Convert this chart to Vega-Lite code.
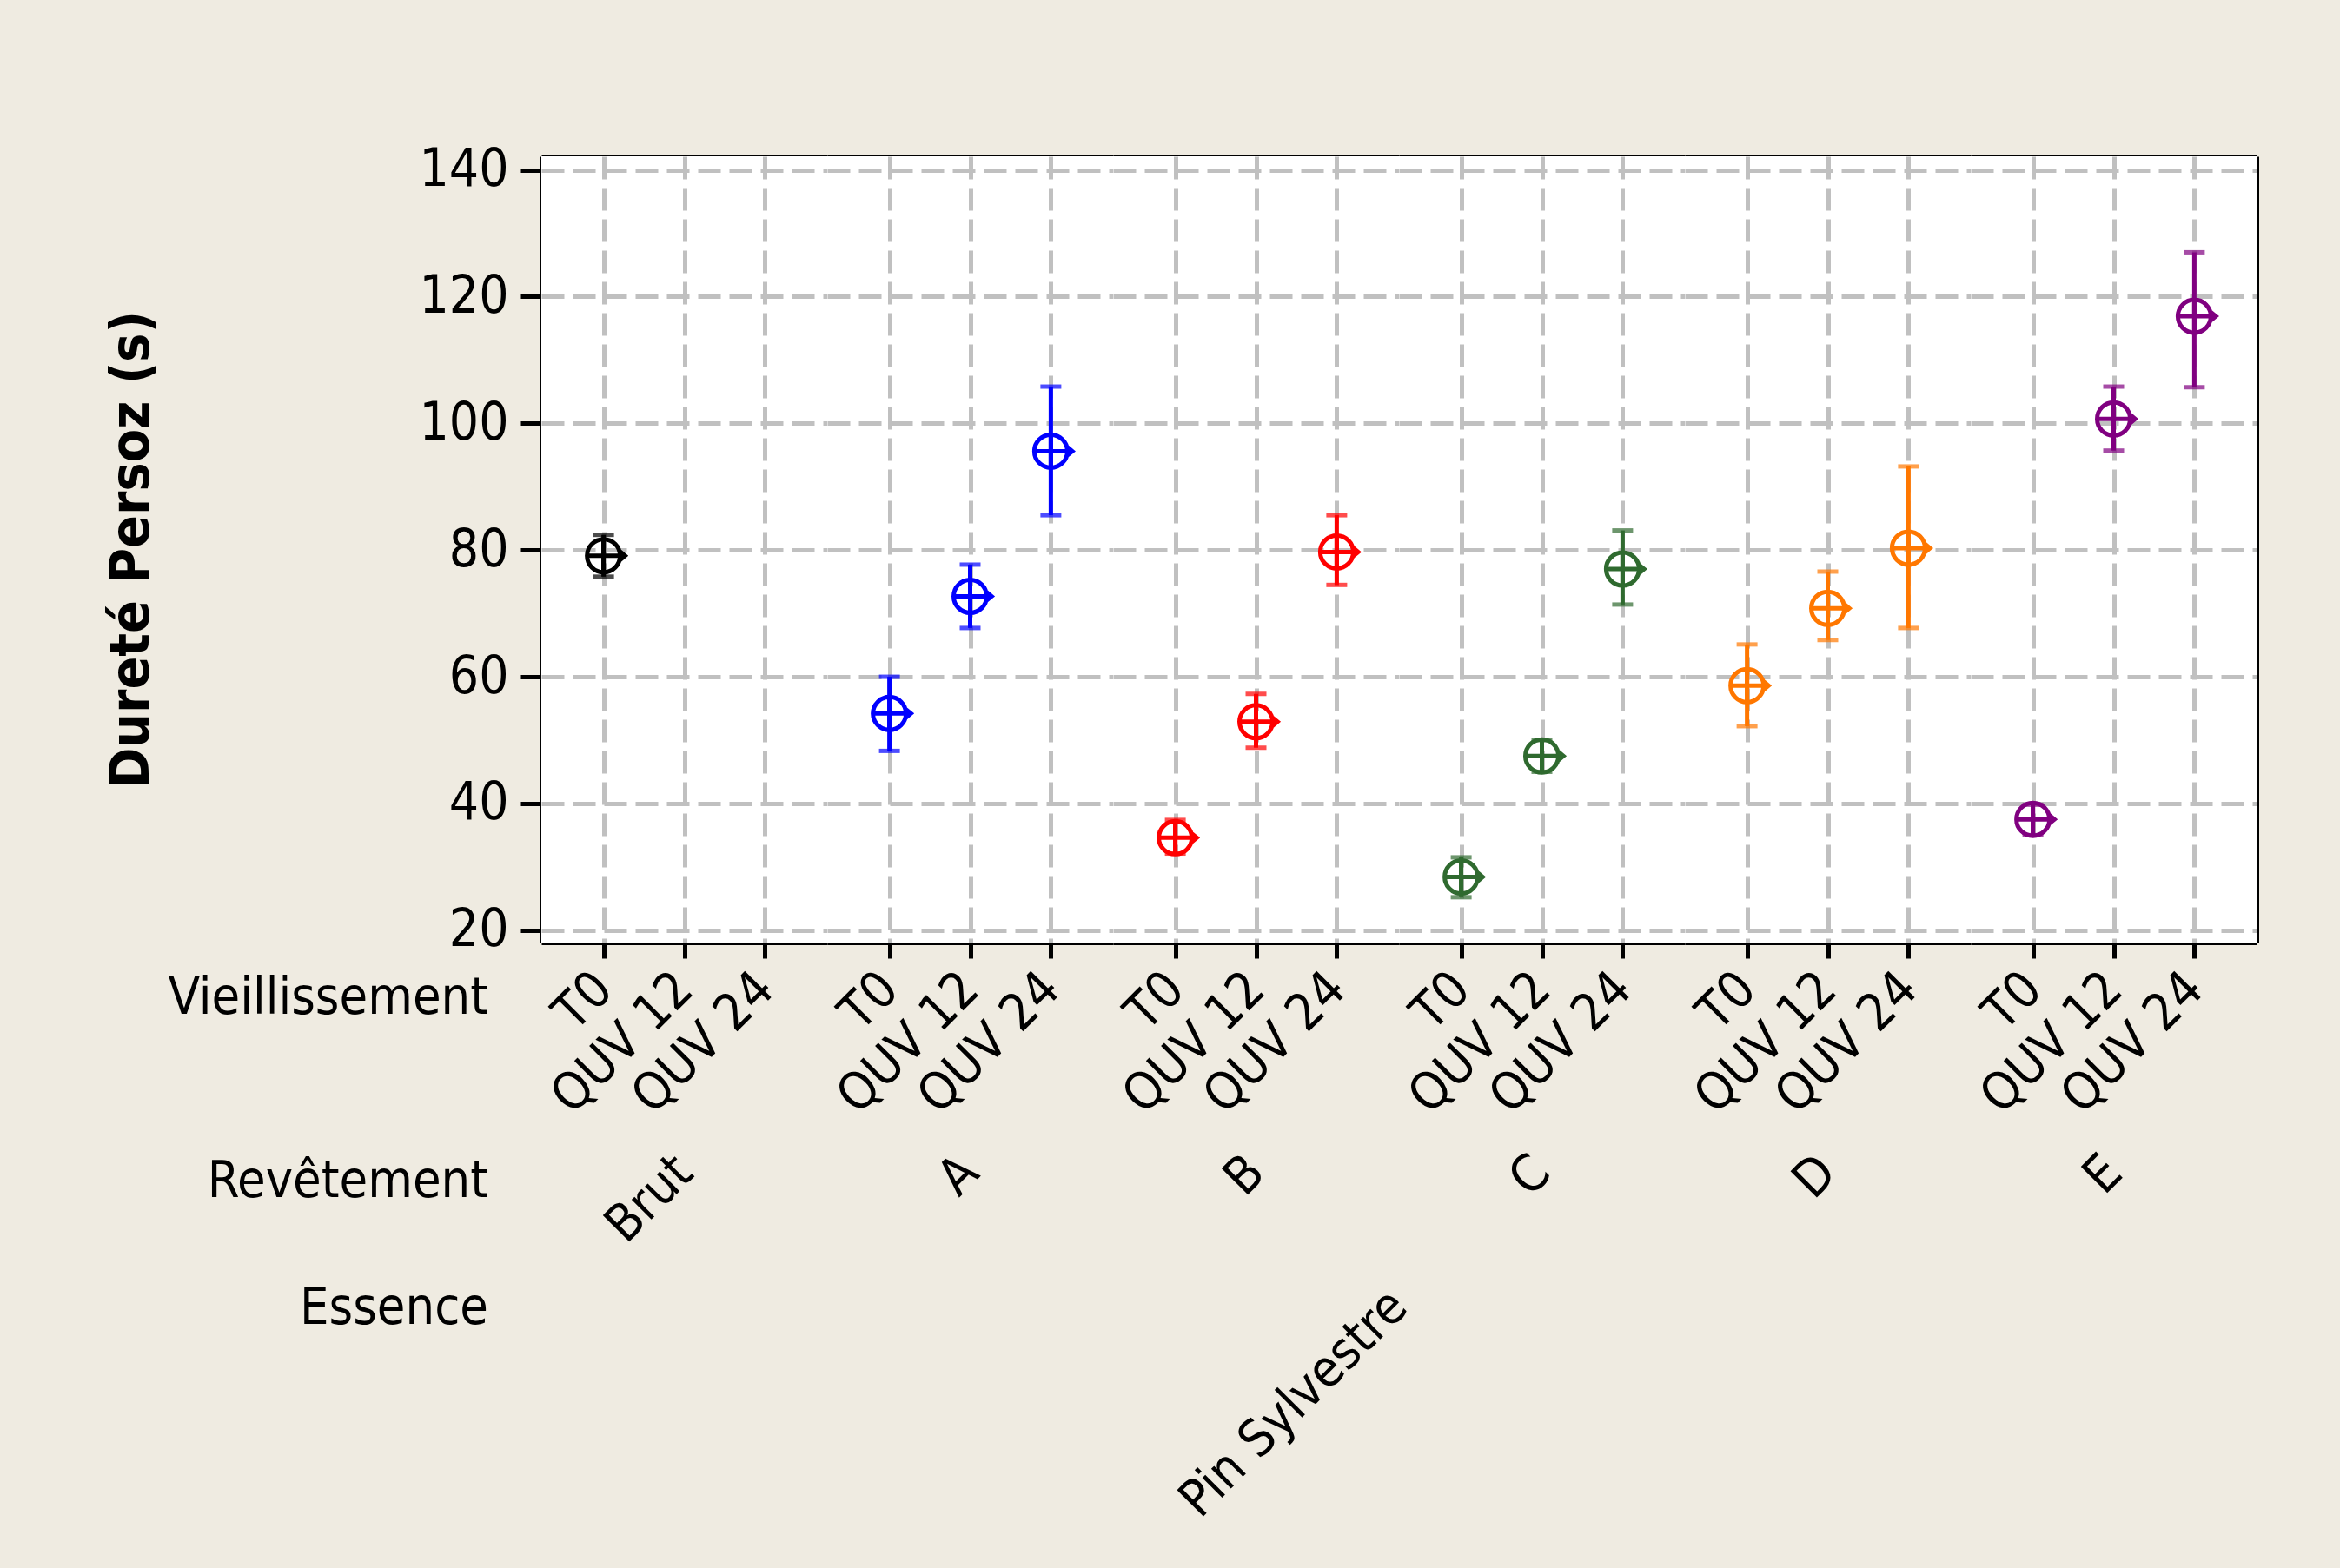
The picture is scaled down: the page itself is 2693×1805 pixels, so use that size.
{
  "$schema": "https://vega.github.io/schema/vega-lite/v6.json",
  "background": "#EFEBE1",
  "padding": {"left": 119, "top": 165, "right": 110, "bottom": 90},
  "data": {
    "values": [
      {"revetement": "Brut", "vieillissement": "T0", "moyenne": 79.1, "bas": 75.8, "haut": 82.4},
      {"revetement": "A", "vieillissement": "T0", "moyenne": 54.2, "bas": 48.3, "haut": 60.0},
      {"revetement": "A", "vieillissement": "QUV 12", "moyenne": 72.7, "bas": 67.7, "haut": 77.7},
      {"revetement": "A", "vieillissement": "QUV 24", "moyenne": 95.6, "bas": 85.5, "haut": 105.8},
      {"revetement": "B", "vieillissement": "T0", "moyenne": 34.6, "bas": 32.1, "haut": 37.4},
      {"revetement": "B", "vieillissement": "QUV 12", "moyenne": 52.9, "bas": 48.8, "haut": 57.3},
      {"revetement": "B", "vieillissement": "QUV 24", "moyenne": 79.7, "bas": 74.5, "haut": 85.5},
      {"revetement": "C", "vieillissement": "T0", "moyenne": 28.4, "bas": 25.2, "haut": 31.5},
      {"revetement": "C", "vieillissement": "QUV 12", "moyenne": 47.5, "bas": 45.0, "haut": 50.0},
      {"revetement": "C", "vieillissement": "QUV 24", "moyenne": 77.0, "bas": 71.4, "haut": 83.1},
      {"revetement": "D", "vieillissement": "T0", "moyenne": 58.6, "bas": 52.2, "haut": 65.1},
      {"revetement": "D", "vieillissement": "QUV 12", "moyenne": 70.8, "bas": 65.8, "haut": 76.6},
      {"revetement": "D", "vieillissement": "QUV 24", "moyenne": 80.3, "bas": 67.7, "haut": 93.2},
      {"revetement": "E", "vieillissement": "T0", "moyenne": 37.5, "bas": 35.0, "haut": 39.8},
      {"revetement": "E", "vieillissement": "QUV 12", "moyenne": 100.7, "bas": 95.7, "haut": 105.8},
      {"revetement": "E", "vieillissement": "QUV 24", "moyenne": 116.9, "bas": 105.7, "haut": 127.0}
    ]
  },
  "title": {
    "text": "Vieillissement",
    "subtitle": ["Revêtement", "Essence"],
    "orient": "bottom",
    "anchor": "start",
    "frame": "group",
    "align": "right",
    "baseline": "top",
    "dx": -61,
    "dy": -638,
    "offset": 0,
    "lineHeight": 71,
    "fontSize": 59,
    "fontWeight": "normal",
    "color": "#000000",
    "subtitleFontSize": 59,
    "subtitleColor": "#000000",
    "subtitleLineHeight": 146,
    "subtitlePadding": 152
  },
  "facet": {
    "column": {
      "field": "revetement",
      "type": "nominal",
      "sort": ["Brut", "A", "B", "C", "D", "E"],
      "title": "Pin Sylvestre",
      "header": {
        "labelOrient": "bottom",
        "labelAngle": -45,
        "labelAlign": "right",
        "labelBaseline": "middle",
        "labelFontSize": 59,
        "labelColor": "#000000",
        "labelPadding": 48,
        "titleOrient": "bottom",
        "titleAngle": -45,
        "titleAlign": "right",
        "titleBaseline": "middle",
        "titleAnchor": "middle",
        "titleFontSize": 59,
        "titleFontWeight": "normal",
        "titleColor": "#000000",
        "titlePadding": 43
      }
    }
  },
  "spacing": 0,
  "spec": {
    "width": 329,
    "height": 905,
    "resolve": {"axis": {"x": "independent", "y": "independent"}},
    "layer": [
      {
        "mark": {"type": "rule", "strokeWidth": 5},
        "encoding": {
          "x": {"field": "vieillissement", "type": "ordinal", "scale": {"type": "point", "domain": ["T0", "QUV 12", "QUV 24"], "padding": 0.771},
            "axis": {"title": null, "orient": "bottom", "labelAngle": -45, "labelAlign": "right", "labelBaseline": "middle", "labelFontSize": 59, "labelPadding": 26, "labelLimit": 0, "labelOverlap": false, "tickSize": 18, "tickWidth": 5, "tickColor": "#000000", "domainColor": "#000000", "domainWidth": 5, "grid": true, "gridColor": "#C0C0C0", "gridWidth": 5, "gridDash": [26, 10], "labelColor": "#000000"}},
          "y": {"field": "bas", "type": "quantitative", "scale": {"domain": [18.05, 142.14], "nice": false, "zero": false},
            "axis": {"title": "Dureté Persoz (s)", "orient": "left", "values": [20, 40, 60, 80, 100, 120, 140], "labelFontSize": 60, "labelPadding": 14, "tickSize": 24, "tickWidth": 5, "tickColor": "#000000", "domainColor": "#000000", "domainWidth": 5, "grid": true, "gridColor": "#C0C0C0", "gridWidth": 5, "gridDash": [26, 10], "labelColor": "#000000", "titleFontSize": 62, "titleFontWeight": "bold", "titleColor": "#000000", "titleX": -472, "titleY": 452, "titleBaseline": "middle", "titleAngle": -90}},
          "y2": {"field": "haut"},
          "color": {"field": "revetement", "type": "nominal", "scale": {"domain": ["Brut", "A", "B", "C", "D", "E"], "range": ["#000000", "#0000FF", "#FF0000", "#2F6A2F", "#FF7700", "#800080"]}, "legend": null}
        }
      },
      {
        "mark": {"type": "tick", "size": 24, "thickness": 5},
        "encoding": {
          "x": {"field": "vieillissement", "type": "ordinal", "axis": null},
          "y": {"field": "bas", "type": "quantitative", "axis": null},
          "color": {"field": "revetement", "type": "nominal", "legend": null}
        }
      },
      {
        "mark": {"type": "tick", "size": 24, "thickness": 5},
        "encoding": {
          "x": {"field": "vieillissement", "type": "ordinal", "axis": null},
          "y": {"field": "haut", "type": "quantitative", "axis": null},
          "color": {"field": "revetement", "type": "nominal", "legend": null}
        }
      },
      {
        "mark": {"type": "point", "shape": "M-1,0A1,1,0,1,1,1,0A1,1,0,1,1,-1,0ZM-1,0L1,0M0,-1L0,1M1,-0.25L1.3,0L1,0.25", "size": 1444, "filled": false, "strokeWidth": 5, "opacity": 1},
        "encoding": {
          "x": {"field": "vieillissement", "type": "ordinal", "axis": null},
          "y": {"field": "moyenne", "type": "quantitative", "axis": null},
          "color": {"field": "revetement", "type": "nominal", "legend": null}
        }
      },
      {
        "mark": {"type": "point", "opacity": 0},
        "encoding": {
          "x": {"field": "vieillissement", "type": "ordinal", "axis": {"orient": "top", "labels": false, "ticks": false, "grid": false, "title": null, "domainColor": "#000000", "domainWidth": 5}},
          "y": {"field": "moyenne", "type": "quantitative", "axis": {"orient": "right", "labels": false, "ticks": false, "grid": false, "title": null, "domainColor": "#000000", "domainWidth": 5}}
        }
      }
    ]
  },
  "config": {
    "font": "DejaVu Sans Condensed, DejaVu Sans, sans-serif",
    "view": {"stroke": null, "fill": "#FFFFFF"},
    "axis": {"labelFont": "DejaVu Sans Condensed, DejaVu Sans, sans-serif", "titleFont": "DejaVu Sans Condensed, DejaVu Sans, sans-serif"},
    "header": {"labelFont": "DejaVu Sans Condensed, DejaVu Sans, sans-serif", "titleFont": "DejaVu Sans Condensed, DejaVu Sans, sans-serif"},
    "title": {"font": "DejaVu Sans Condensed, DejaVu Sans, sans-serif", "subtitleFont": "DejaVu Sans Condensed, DejaVu Sans, sans-serif"}
  }
}
